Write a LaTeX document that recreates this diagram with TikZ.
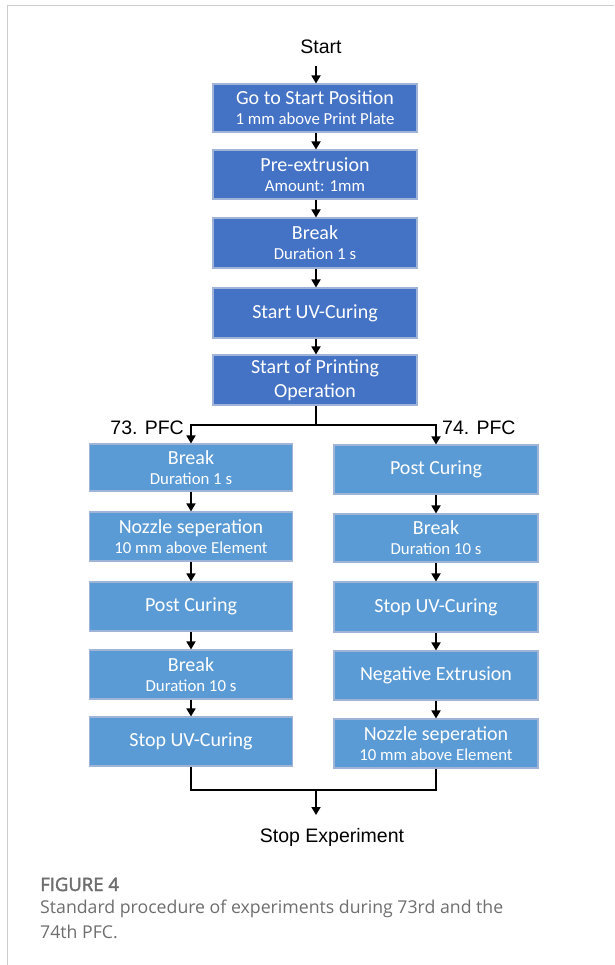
\documentclass[tikz,border=0pt]{standalone}
\usepackage{fontspec}
\newfontfamily\calfont{Carlito}
\newfontfamily\arifont{Liberation Sans}
\newfontfamily\capfont{Open Sans}
\newfontfamily\capboldfont[FakeBold=2.2]{Open Sans}
\usetikzlibrary{arrows.meta}
\definecolor{darkbox}{HTML}{4472C4}
\definecolor{lightbox}{HTML}{5B9BD5}
\definecolor{boxline}{HTML}{9FB4D6}
\definecolor{framegray}{HTML}{CCCCCC}
\definecolor{capgray}{HTML}{6E6E6E}
\tikzset{
  topbox/.style={draw=boxline, line width=1.1pt, fill=darkbox, text=white, align=center,
    minimum width=204pt, inner sep=0pt, font=\calfont\fontsize{20}{20}\selectfont},
  lowbox/.style={draw=boxline, line width=1.1pt, fill=lightbox, text=white, align=center,
    minimum width=203pt, inner sep=0pt, font=\calfont\fontsize{20}{20}\selectfont},
  lbl/.style={font=\arifont\fontsize{19.5}{22}\selectfont, inner sep=0pt},
  captxt/.style={anchor=base west, inner sep=0pt, text=capgray, font=\capfont\fontsize{17.7}{20}\selectfont},
  arr/.style={line width=1.7pt, -{Triangle[width=9pt,length=8pt]}},
  ln/.style={line width=1.7pt},
}
\newcommand{\sbt}{\fontsize{16.8}{20}\selectfont}
\begin{document}
\begin{tikzpicture}[x=1pt,y=-1pt]
\useasboundingbox (0,0) rectangle (614,965);
% frame
\draw[framegray, line width=1pt] (7,965) -- (7,5.5) -- (614,5.5);

% top chain
\node[lbl, anchor=base] (start) at (321,54) {Start};
\node[topbox, minimum height=48pt] (b1) at (315,108) {Go to Start Position\\\sbt 1 mm above Print Plate};
\node[topbox, minimum height=49pt] (b2) at (315,174.5) {Pre-extrusion\\\sbt Amount: 1mm};
\node[topbox, minimum height=50pt] (b3) at (315,243) {Break\\\sbt Duration 1 s};
\node[topbox, minimum height=50pt] (b4) at (315,313) {Start UV-Curing};
\node[topbox, minimum height=50pt] (b5) at (315,380) {Start of Printing\\[4pt]Operation};

% left column
\node[lowbox, minimum height=47pt] (l1) at (191,467.5) {Break\\\sbt Duration 1 s};
\node[lowbox, minimum height=49pt] (l2) at (191,536.5) {Nozzle seperation\\\sbt 10 mm above Element};
\node[lowbox, minimum height=49pt] (l3) at (191,606.5) {Post Curing};
\node[lowbox, minimum height=49pt] (l4) at (191,674.5) {Break\\\sbt Duration 10 s};
\node[lowbox, minimum height=49pt] (l5) at (191,741.5) {Stop UV-Curing};

% right column
\node[lowbox, minimum width=204pt, minimum height=49pt] (r1) at (436,469.5) {Post Curing};
\node[lowbox, minimum width=204pt, minimum height=48pt] (r2) at (436,538) {Break\\\sbt Duration 10 s};
\node[lowbox, minimum width=204pt, minimum height=50pt] (r3) at (436,607) {Stop UV-Curing};
\node[lowbox, minimum width=204pt, minimum height=49pt] (r4) at (436,675.5) {Negative Extrusion};
\node[lowbox, minimum width=204pt, minimum height=49pt] (r5) at (436,743.5) {Nozzle seperation\\\sbt 10 mm above Element};

\node[lbl, anchor=base] (stop) at (332,842) {Stop Experiment};
\node[lbl, anchor=base east] (p73) at (184,434) {73. PFC};
\node[lbl, anchor=base west] (p74) at (442,434) {74. PFC};

% connectors
\coordinate (s0) at (316,66);
\draw[arr] (s0) -- (b1.north -| s0);
\draw[arr] (b1.south -| s0) -- (b2.north -| s0);
\draw[arr] (b2.south -| s0) -- (b3.north -| s0);
\draw[arr] (b3.south -| s0) -- (b4.north -| s0);
\draw[arr] (b4.south -| s0) -- (b5.north -| s0);
\coordinate (br) at (316,425);
\draw[ln] (b5.south -| s0) -- (br);
\draw[arr] (br) -| (l1.north);
\draw[arr] (br) -| (r1.north);
\foreach \a/\b in {l1/l2,l2/l3,l3/l4,l4/l5,r1/r2,r2/r3,r3/r4,r4/r5}
  \draw[arr] (\a.south) -- (\b.north);
\coordinate (mg) at (316,790);
\draw[ln] (l5.south) |- (mg);
\draw[ln] (r5.south) |- (mg);
\draw[arr] (mg) -- (316,815);

% caption
\node[captxt, font=\capboldfont\fontsize{18.5}{20}\selectfont] (fig) at (40,891) {FIGURE 4};
\node[captxt] (cap1) at (40,913) {Standard procedure of experiments during 73rd and the};
\node[captxt] (cap2) at (40,938) {74th PFC.};
\end{tikzpicture}
\end{document}
